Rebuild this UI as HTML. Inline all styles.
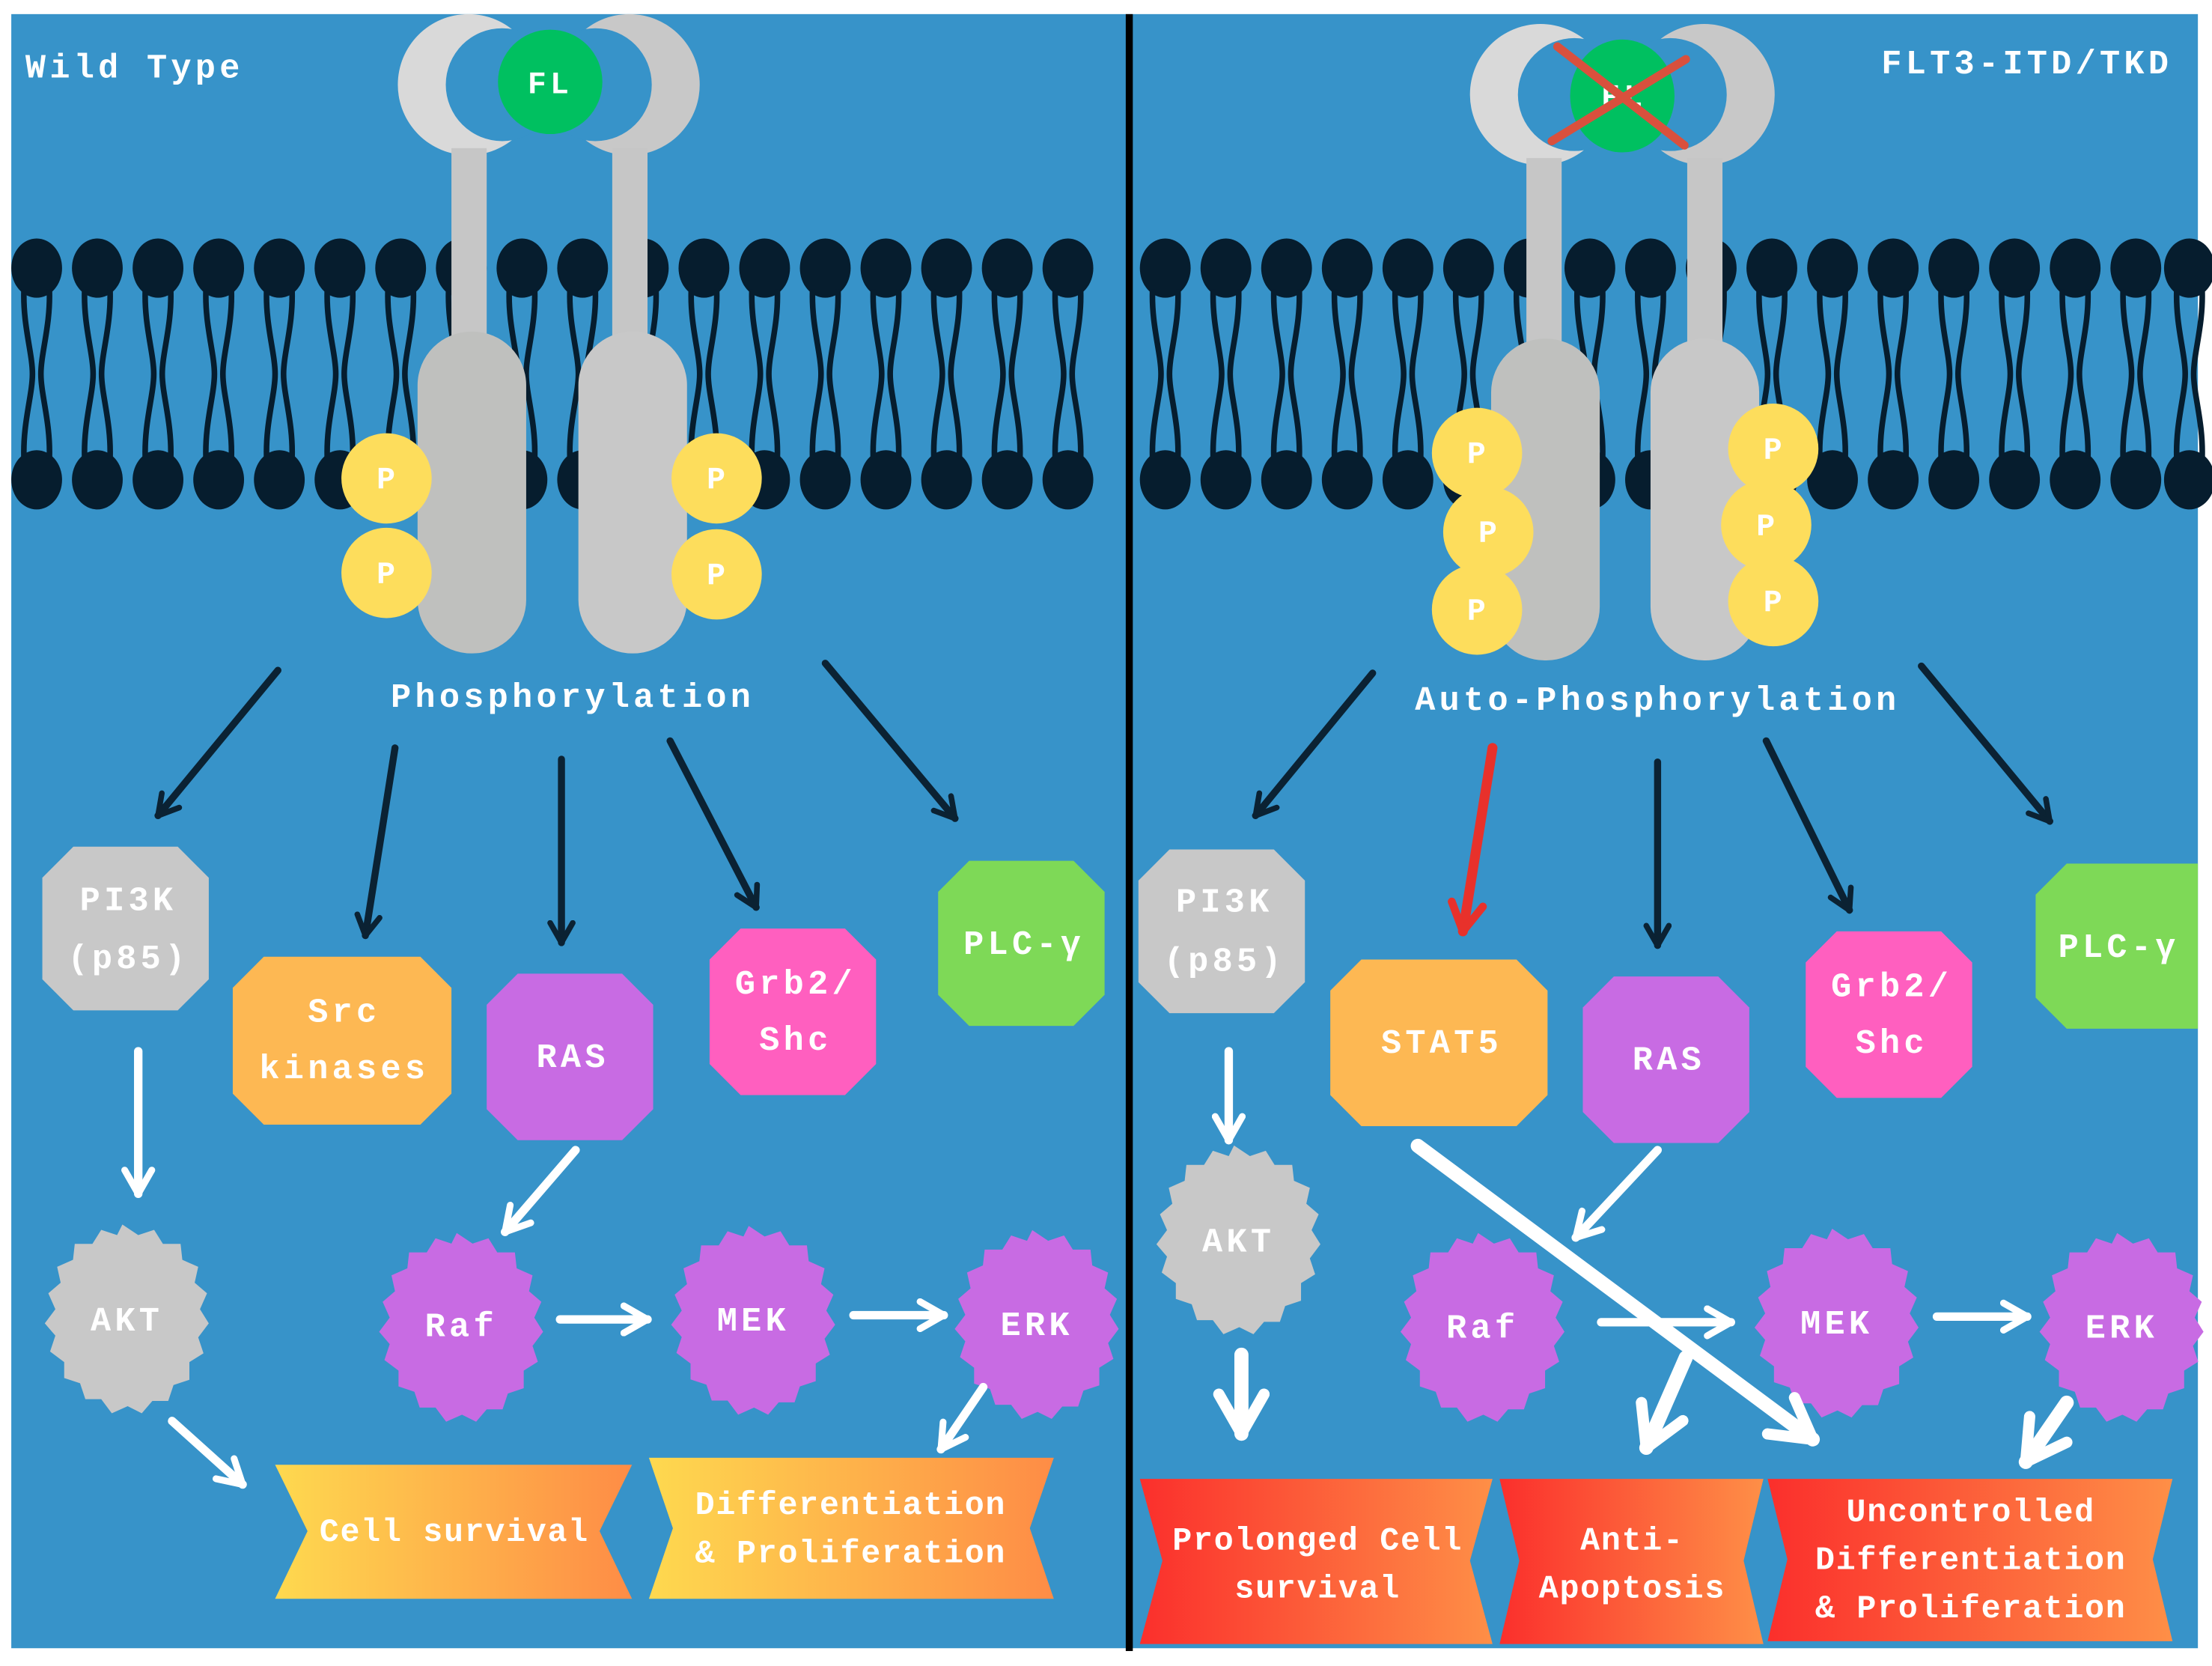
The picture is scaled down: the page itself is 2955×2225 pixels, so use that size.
<!DOCTYPE html>
<html><head><meta charset="utf-8"><style>
html,body{margin:0;padding:0;background:#fff}
svg{display:block}
text{font-family:"Liberation Mono",monospace;font-weight:bold;fill:#fff;letter-spacing:2.8px}
.bn text{letter-spacing:0.9px}
</style></head><body>
<svg width="2955" height="2225" viewBox="0 0 1568 1180.6" preserveAspectRatio="none" xmlns="http://www.w3.org/2000/svg">
<defs>
<marker id="hd" viewBox="0 0 10 10" refX="8" refY="5" markerWidth="4" markerHeight="4" orient="auto"><path d="M1,1 L8,5 L1,9" stroke="#0b2233" stroke-width="2" fill="none" stroke-linecap="round" stroke-linejoin="round"/></marker>
<marker id="hw" viewBox="0 0 10 10" refX="8" refY="5" markerWidth="4" markerHeight="4" orient="auto"><path d="M1,1 L8,5 L1,9" stroke="#fff" stroke-width="2" fill="none" stroke-linecap="round" stroke-linejoin="round"/></marker>
<marker id="hr" viewBox="0 0 10 10" refX="8" refY="5" markerWidth="4" markerHeight="4" orient="auto"><path d="M1,1 L8,5 L1,9" stroke="#e8312b" stroke-width="2" fill="none" stroke-linecap="round" stroke-linejoin="round"/></marker>
<linearGradient id="gy" x1="0" x2="1" y1="0" y2="0"><stop offset="0" stop-color="#fed94f"/><stop offset="1" stop-color="#fe8c46"/></linearGradient>
<linearGradient id="gr" x1="0" x2="1" y1="0" y2="0"><stop offset="0" stop-color="#fb2f2c"/><stop offset="1" stop-color="#fe8f47"/></linearGradient>
<g id="lip">
<ellipse cx="0" cy="190" rx="18" ry="21" fill="#061d2e"/>
<ellipse cx="0" cy="340" rx="18" ry="21" fill="#061d2e"/>
<path d="M-9,205 C-10,230 -3,250 -3,265 C-3,280 -10,300 -9,325" stroke="#061d2e" stroke-width="4" fill="none"/>
<path d="M9,205 C10,230 3,250 3,265 C3,280 10,300 9,325" stroke="#061d2e" stroke-width="4" fill="none"/>
</g>
<polygon id="st" points="88,878 97,884 106,881 111,889 121,889 122,898 131,902 129,911 136,917 132,926 137,934 131,942 134,951 126,956 126,966 117,969 114,978 105,978 99,985 91,981 82,985 76,977 67,977 64,968 55,965 55,956 47,950 50,941 44,934 50,926 46,917 53,911 51,902 60,898 61,889 71,889 76,881 85,884" transform="translate(88,934) scale(1.25) translate(-89,-931)"/>
</defs>
<rect x="8" y="10" width="1550" height="1158" fill="#3793c9"/>
<g>
<use href="#lip" x="26"/><use href="#lip" x="69"/><use href="#lip" x="112"/><use href="#lip" x="155"/><use href="#lip" x="198"/><use href="#lip" x="241"/><use href="#lip" x="284"/><use href="#lip" x="327"/><use href="#lip" x="370"/><use href="#lip" x="413"/><use href="#lip" x="456"/><use href="#lip" x="499"/><use href="#lip" x="542"/><use href="#lip" x="585"/><use href="#lip" x="628"/><use href="#lip" x="671"/><use href="#lip" x="714"/><use href="#lip" x="757"/>
<use href="#lip" x="826"/><use href="#lip" x="869"/><use href="#lip" x="912"/><use href="#lip" x="955"/><use href="#lip" x="998"/><use href="#lip" x="1041"/><use href="#lip" x="1084"/><use href="#lip" x="1127"/><use href="#lip" x="1170"/><use href="#lip" x="1213"/><use href="#lip" x="1256"/><use href="#lip" x="1299"/><use href="#lip" x="1342"/><use href="#lip" x="1385"/><use href="#lip" x="1428"/><use href="#lip" x="1471"/><use href="#lip" x="1514"/><use href="#lip" x="1552"/>
</g>
<circle cx="332" cy="60" r="50" fill="#d9d9d9"/><circle cx="356" cy="60" r="40" fill="#3793c9"/>
<circle cx="446" cy="60" r="50" fill="#c8c8c8"/><circle cx="422" cy="60" r="40" fill="#3793c9"/>
<rect x="320" y="105" width="25" height="150" fill="#c6c6c6"/>
<rect x="434" y="105" width="25" height="150" fill="#c6c6c6"/>
<rect x="296" y="235" width="77" height="228" rx="38" fill="#bfc0be"/>
<rect x="410" y="235" width="77" height="228" rx="38" fill="#c8c8c8"/>
<ellipse cx="390" cy="58" rx="37" ry="37" fill="#00c060"/>
<text x="390" y="66" font-size="22" text-anchor="middle">FL</text>
<g font-size="22" text-anchor="middle">
<circle cx="274" cy="339" r="32" fill="#fddd5c"/><text x="275" y="346">P</text>
<circle cx="274" cy="406" r="32" fill="#fddd5c"/><text x="275" y="413">P</text>
<circle cx="508" cy="339" r="32" fill="#fddd5c"/><text x="509" y="346">P</text>
<circle cx="508" cy="407" r="32" fill="#fddd5c"/><text x="509" y="414">P</text>
</g>
<text x="18" y="55" font-size="24">Wild Type</text>
<text x="406" y="501" font-size="24" text-anchor="middle">Phosphorylation</text>
<circle cx="1092" cy="67" r="50" fill="#d9d9d9"/><circle cx="1116" cy="67" r="40" fill="#3793c9"/>
<circle cx="1208" cy="67" r="50" fill="#c8c8c8"/><circle cx="1184" cy="67" r="40" fill="#3793c9"/>
<rect x="1082" y="112" width="25" height="150" fill="#c6c6c6"/>
<rect x="1196" y="112" width="25" height="150" fill="#c6c6c6"/>
<rect x="1057" y="240" width="77" height="228" rx="38" fill="#bfc0be"/>
<rect x="1170" y="240" width="77" height="228" rx="38" fill="#c8c8c8"/>
<ellipse cx="1150" cy="68" rx="37" ry="40" fill="#00c060"/>
<text x="1151" y="75" font-size="22" text-anchor="middle">FL</text>
<line x1="1104" y1="33" x2="1194" y2="103" stroke="#d9503d" stroke-width="6" stroke-linecap="round"/>
<line x1="1100" y1="100" x2="1195" y2="42" stroke="#d9503d" stroke-width="6" stroke-linecap="round"/>
<g font-size="22" text-anchor="middle">
<circle cx="1047" cy="321" r="32" fill="#fddd5c"/><text x="1048" y="328">P</text>
<circle cx="1055" cy="377" r="32" fill="#fddd5c"/><text x="1056" y="384">P</text>
<circle cx="1047" cy="432" r="32" fill="#fddd5c"/><text x="1048" y="439">P</text>
<circle cx="1257" cy="318" r="32" fill="#fddd5c"/><text x="1258" y="325">P</text>
<circle cx="1252" cy="372" r="32" fill="#fddd5c"/><text x="1253" y="379">P</text>
<circle cx="1257" cy="426" r="32" fill="#fddd5c"/><text x="1258" y="433">P</text>
</g>
<text x="1540" y="52" font-size="24" text-anchor="end">FLT3-ITD/TKD</text>
<text x="1175" y="503" font-size="24" text-anchor="middle">Auto-Phosphorylation</text>
<rect x="798" y="10" width="5" height="1160" fill="#000"/>
<g stroke="#0b2233" stroke-width="5" marker-end="url(#hd)" stroke-linecap="round">
<line x1="197" y1="475" x2="112" y2="578"/>
<line x1="280" y1="530" x2="259" y2="663"/>
<line x1="398" y1="538" x2="398" y2="668"/>
<line x1="475" y1="525" x2="536" y2="643"/>
<line x1="585" y1="470" x2="677" y2="580"/>
<line x1="973" y1="477" x2="890" y2="578"/>
<line x1="1175" y1="540" x2="1175" y2="670"/>
<line x1="1252" y1="525" x2="1311" y2="645"/>
<line x1="1362" y1="472" x2="1453" y2="582"/>
</g>
<line x1="1058" y1="530" x2="1037" y2="660" stroke="#e8312b" stroke-width="7" marker-end="url(#hr)" stroke-linecap="round"/>
<g>
<polygon points="52,600 126,600 148,622 148,694 126,716 52,716 30,694 30,622" fill="#c8c8c8"/>
<polygon points="187,678 298,678 320,700 320,775 298,797 187,797 165,775 165,700" fill="#fdb853"/>
<polygon points="367,690 441,690 463,712 463,786 441,808 367,808 345,786 345,712" fill="#c86be3"/>
<polygon points="525,658 599,658 621,680 621,754 599,776 525,776 503,754 503,680" fill="#ff5fbf"/>
<polygon points="687,610 761,610 783,632 783,705 761,727 687,727 665,705 665,632" fill="#7ed957"/>
<polygon points="829,602 903,602 925,624 925,696 903,718 829,718 807,696 807,624" fill="#c8c8c8"/>
<polygon points="965,680 1075,680 1097,702 1097,776 1075,798 965,798 943,776 943,702" fill="#fdb853"/>
<polygon points="1144,692 1218,692 1240,714 1240,788 1218,810 1144,810 1122,788 1122,714" fill="#c86be3"/>
<polygon points="1302,660 1376,660 1398,682 1398,756 1376,778 1302,778 1280,756 1280,682" fill="#ff5fbf"/>
<polygon points="1465,612 1558,612 1558,729 1465,729 1443,707 1443,634" fill="#7ed957"/>
</g>
<g font-size="24" text-anchor="middle">
<text x="91" y="645">PI3K</text><text x="91" y="686">(p85)</text>
<text x="244" y="724">Src</text><text x="244" y="764">kinases</text>
<text x="406" y="756">RAS</text>
<text x="564" y="704">Grb2/</text><text x="564" y="744">Shc</text>
<text x="726" y="676">PLC-γ</text>
<text x="868" y="646">PI3K</text><text x="868" y="688">(p85)</text>
<text x="1022" y="746">STAT5</text>
<text x="1183" y="758">RAS</text>
<text x="1341" y="706">Grb2/</text><text x="1341" y="746">Shc</text>
<text x="1502" y="678">PLC-γ</text>
</g>
<use href="#st" fill="#c8c8c8"/>
<use href="#st" fill="#c8c8c8" x="788" y="-56"/>
<g fill="#c86be3">
<use href="#st" x="237" y="6"/>
<use href="#st" x="444" y="1"/>
<use href="#st" x="645" y="4"/>
<use href="#st" x="961" y="6"/>
<use href="#st" x="1212" y="3"/>
<use href="#st" x="1414" y="6"/>
</g>
<g font-size="24" text-anchor="middle">
<text x="90" y="943">AKT</text>
<text x="327" y="947">Raf</text>
<text x="534" y="943">MEK</text>
<text x="735" y="946">ERK</text>
<text x="878" y="887">AKT</text>
<text x="1051" y="948">Raf</text>
<text x="1302" y="945">MEK</text>
<text x="1504" y="948">ERK</text>
</g>
<g stroke="#fff" stroke-width="6" marker-end="url(#hw)" stroke-linecap="round">
<line x1="98" y1="745" x2="98" y2="846"/>
<line x1="408" y1="815" x2="358" y2="873"/>
<line x1="397" y1="935" x2="459" y2="935"/>
<line x1="605" y1="932" x2="669" y2="932"/>
<line x1="697" y1="983" x2="667" y2="1027"/>
<line x1="122" y1="1007" x2="172" y2="1052"/>
<line x1="871" y1="745" x2="871" y2="808"/>
<line x1="1175" y1="815" x2="1117" y2="877"/>
<line x1="1135" y1="937" x2="1227" y2="937"/>
<line x1="1373" y1="933" x2="1437" y2="933"/>
</g>
<g stroke="#fff" stroke-width="10" marker-end="url(#hw)" stroke-linecap="round">
<line x1="880" y1="960" x2="880" y2="1016"/>
<line x1="1195" y1="962" x2="1167" y2="1026"/>
<line x1="1005" y1="812" x2="1285" y2="1020"/>
<line x1="1465" y1="994" x2="1436" y2="1036"/>
</g>
<polygon points="195,1038 448,1038 425,1085 448,1133 195,1133 218,1085" fill="url(#gy)"/>
<polygon points="460,1033 747,1033 730,1083 747,1133 460,1133 477,1083" fill="url(#gy)"/>
<polygon points="808,1048 1058,1048 1042,1106 1058,1165 808,1165 824,1106" fill="url(#gr)"/>
<polygon points="1063,1048 1250,1048 1236,1106 1250,1165 1063,1165 1077,1106" fill="url(#gr)"/>
<polygon points="1253,1048 1540,1048 1526,1105 1540,1163 1253,1163 1267,1105" fill="url(#gr)"/>
<g class="bn" font-size="23" text-anchor="middle">
<text x="322" y="1092">Cell survival</text>
<text x="603" y="1073">Differentiation</text>
<text x="603" y="1107">&amp; Proliferation</text>
<text x="934" y="1098">Prolonged Cell</text>
<text x="934" y="1132">survival</text>
<text x="1157" y="1098">Anti-</text>
<text x="1157" y="1132">Apoptosis</text>
<text x="1397" y="1078">Uncontrolled</text>
<text x="1397" y="1112">Differentiation</text>
<text x="1397" y="1146">&amp; Proliferation</text>
</g>
</svg>
</body></html>
